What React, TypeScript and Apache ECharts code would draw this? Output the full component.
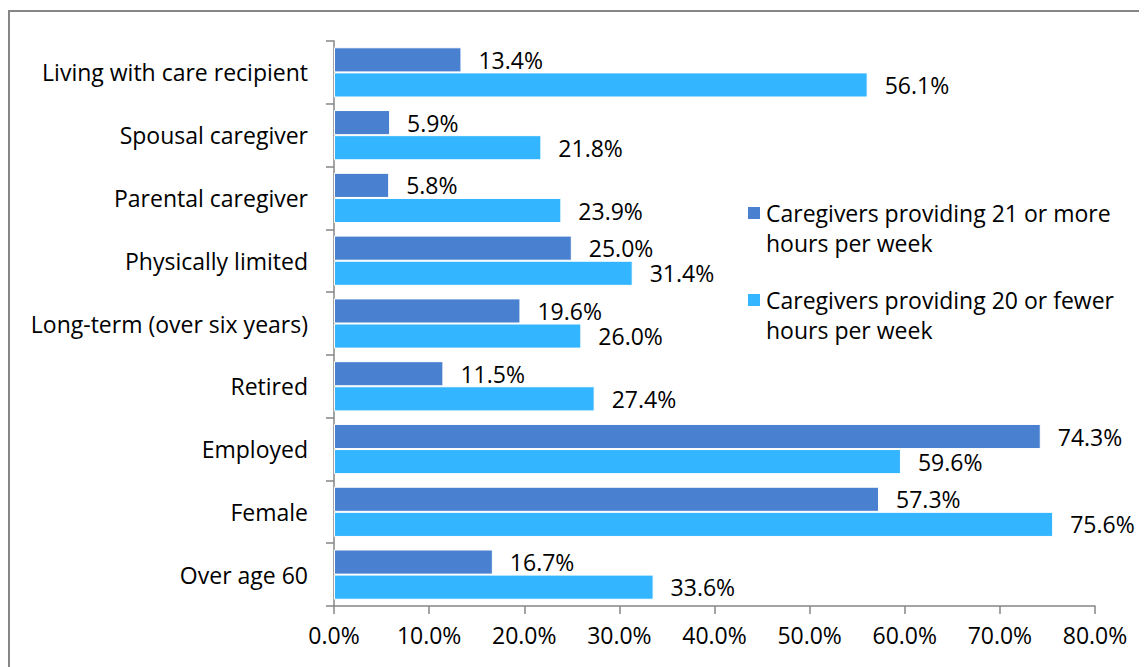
import React, { useEffect, useRef } from "react";
import * as echarts from "echarts";

const categories = [
  "Over age 60",
  "Female",
  "Employed",
  "Retired",
  "Long-term (over six years)",
  "Physically limited",
  "Parental caregiver",
  "Spousal caregiver",
  "Living with care recipient",
];
const seriesNames = [
  "Caregivers providing 21 or more hours per week",
  "Caregivers providing 20 or fewer hours per week",
];
const moreHours = [16.7, 57.3, 74.3, 11.5, 19.6, 25.0, 5.8, 5.9, 13.4];
const fewerHours = [33.6, 75.6, 59.6, 27.4, 26.0, 31.4, 23.9, 21.8, 56.1];
const legendLabels: Record<string, string> = {
  "Caregivers providing 21 or more hours per week": "Caregivers providing 21 or more\nhours per week",
  "Caregivers providing 20 or fewer hours per week": "Caregivers providing 20 or fewer\nhours per week",
};

const FONT = "'Open Sans', 'Noto Sans', sans-serif";
const FS = 23;

export default function App() {
  const ref = useRef<HTMLDivElement>(null);
  useEffect(() => {
    if (!ref.current) return;
    const chart = echarts.init(ref.current, undefined, { renderer: "svg" });
    const label = {
      show: true,
      position: "right",
      distance: 17,
      color: "#000",
      fontSize: FS,
      fontFamily: FONT,
      formatter: (p: any) => p.value.toFixed(1) + "%",
    };
    chart.setOption({
      animation: false,
      textStyle: { fontFamily: FONT },
      graphic: [
        {
          type: "rect",
          shape: { x: 1, y: 3, width: 1200, height: 700 },
          style: { fill: "none", stroke: "#868686", lineWidth: 2 },
          silent: true,
        },
      ],
      legend: {
        orient: "vertical",
        left: 733,
        top: 185,
        itemWidth: 14,
        itemHeight: 44,
        itemGap: 27,
        icon: "path://M0,0H14V14H0Z M0,44H0.01V44.01H0Z",
        data: seriesNames,
        formatter: (n: string) => legendLabels[n],
        textStyle: { fontSize: FS, color: "#000", fontFamily: FONT, lineHeight: 30 },
      },
      grid: { left: 326, right: 52, top: 33, bottom: 61, containLabel: false },
      xAxis: {
        type: "value",
        min: 0,
        max: 80,
        interval: 10,
        axisLine: { show: true, lineStyle: { color: "#868686", width: 1.5 } },
        axisTick: { show: true, length: 8, lineStyle: { color: "#868686", width: 1.5 } },
        splitLine: { show: false },
        axisLabel: {
          fontSize: FS,
          color: "#000",
          fontFamily: FONT,
          margin: 17,
          formatter: (v: number) => v.toFixed(1) + "%",
        },
      },
      yAxis: {
        type: "category",
        data: categories,
        axisLine: { show: true, lineStyle: { color: "#868686", width: 1.5 } },
        axisTick: { show: true, length: 8, lineStyle: { color: "#868686", width: 1.5 } },
        axisLabel: { fontSize: FS, color: "#000", fontFamily: FONT, margin: 26 },
      },
      series: [
        {
          name: seriesNames[0],
          type: "bar",
          data: moreHours,
          barGap: "0%",
          barCategoryGap: "20%",
          itemStyle: { color: "#4A80D0", borderColor: "#ffffff", borderWidth: 1 },
          label,
        },
        {
          name: seriesNames[1],
          type: "bar",
          data: fewerHours,
          barGap: "0%",
          barCategoryGap: "20%",
          itemStyle: { color: "#33B5FF", borderColor: "#ffffff", borderWidth: 1 },
          label,
        },
      ],
    });
    return () => chart.dispose();
  }, []);
  return <div ref={ref} style={{ width: 1139, height: 659 }} />;
}
